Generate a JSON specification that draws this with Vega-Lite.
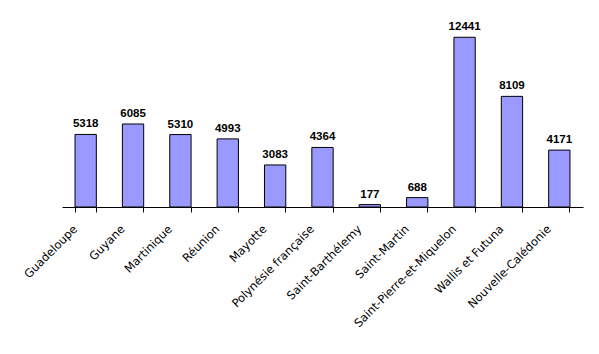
{
  "$schema": "https://vega.github.io/schema/vega-lite/v6.json",
  "width": 521,
  "height": 191,
  "autosize": {"type": "none"},
  "padding": {"left": 62, "top": 16, "right": 16, "bottom": 147},
  "background": "white",
  "config": {"view": {"stroke": null}, "font": "Liberation Sans"},
  "data": {"values": [
    {"territoire": "Guadeloupe", "valeur": 5318},
    {"territoire": "Guyane", "valeur": 6085},
    {"territoire": "Martinique", "valeur": 5310},
    {"territoire": "Réunion", "valeur": 4993},
    {"territoire": "Mayotte", "valeur": 3083},
    {"territoire": "Polynésie française", "valeur": 4364},
    {"territoire": "Saint-Barthélemy", "valeur": 177},
    {"territoire": "Saint-Martin", "valeur": 688},
    {"territoire": "Saint-Pierre-et-Miquelon", "valeur": 12441},
    {"territoire": "Wallis et Futuna", "valeur": 8109},
    {"territoire": "Nouvelle-Calédonie", "valeur": 4171}
  ]},
  "encoding": {
    "x": {"field": "territoire", "type": "nominal", "sort": null,
          "scale": {"paddingInner": 0.55, "paddingOuter": 0.275, "align": 0.5}},
    "y": {"field": "valeur", "type": "quantitative", "scale": {"domain": [0, 14000]}, "axis": null}
  },
  "layer": [
    {
      "mark": {"type": "bar", "fill": "#9999FF", "stroke": "#000000", "strokeWidth": 1},
      "encoding": {
        "x": {"field": "territoire", "type": "nominal", "sort": null,
              "axis": {"orient": "bottom", "title": null, "ticks": false, "domain": false,
                       "labelAngle": -45, "labelAlign": "right", "labelBaseline": "top",
                       "labelFont": "DejaVu Sans", "labelFontSize": 11.5, "labelColor": "#000000",
                       "labelPadding": 16, "labelOffset": -14}}
      }
    },
    {
      "mark": {"type": "text", "dy": -10, "fontWeight": "bold", "fontSize": 11.5, "font": "Liberation Sans", "color": "#000000"},
      "encoding": {
        "text": {"field": "valeur", "type": "quantitative", "format": "d"},
        "x": {"field": "territoire", "type": "nominal", "sort": null,
              "axis": {"orient": "bottom", "title": null, "labels": false, "ticks": true,
                       "bandPosition": 1, "tickExtra": true, "tickSize": 5, "tickColor": "#000000",
                       "domainColor": "#000000", "domainWidth": 1, "tickWidth": 1}}
      }
    }
  ],
  "resolve": {"axis": {"x": "independent"}}
}
